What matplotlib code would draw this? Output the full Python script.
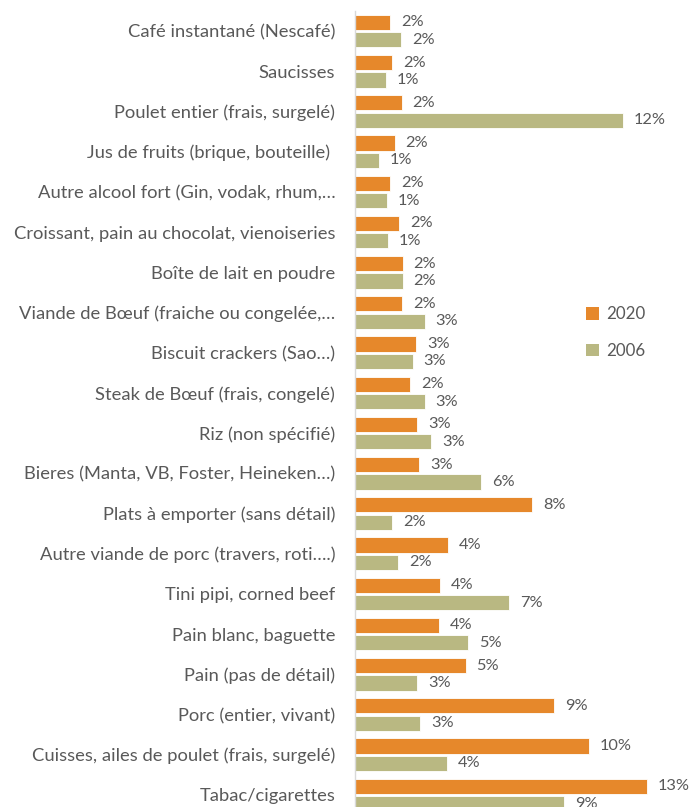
import matplotlib
matplotlib.use("Agg")
import matplotlib.pyplot as plt
from matplotlib.patches import Patch

plt.rcParams['font.family'] = ['Lato', 'DejaVu Sans']

categories = [
    "Café instantané (Nescafé)",
    "Saucisses",
    "Poulet entier (frais, surgelé)",
    "Jus de fruits (brique, bouteille) ",
    "Autre alcool fort (Gin, vodak, rhum,…",
    "Croissant, pain au chocolat, vienoiseries",
    "Boîte de lait en poudre",
    "Viande de Bœuf (fraiche ou congelée,…",
    "Biscuit crackers (Sao…)",
    "Steak de Bœuf (frais, congelé)",
    "Riz (non spécifié)",
    "Bieres (Manta, VB, Foster, Heineken…)",
    "Plats à emporter (sans détail)",
    "Autre viande de porc (travers, roti….)",
    "Tini pipi, corned beef",
    "Pain blanc, baguette",
    "Pain (pas de détail)",
    "Porc (entier, vivant)",
    "Cuisses, ailes de poulet (frais, surgelé)",
    "Tabac/cigarettes",
]

# Share of spending, in percent
values_2020 = [1.56, 1.66, 2.07, 1.76, 1.56, 1.97, 2.11, 2.10, 2.70, 2.45,
               2.74, 2.83, 7.82, 4.10, 3.77, 3.73, 4.89, 8.77, 10.32, 12.88]
values_2006 = [2.04, 1.38, 11.83, 1.07, 1.42, 1.48, 2.11, 3.08, 2.55, 3.08,
               3.38, 5.58, 1.64, 1.92, 6.80, 5.00, 2.74, 2.88, 4.07, 9.21]

series_names = ["2020", "2006"]
colors = ["#E6882B", "#B9B882"]
text_color = "#595959"

W, H = 690, 807
fig = plt.figure(figsize=(W / 100, H / 100), dpi=100)
left_px, top_px = 354.7, 11.0
step_px = 40.2
px_per_pct = 22.7
xmax = 14.0
ax = fig.add_axes([left_px / W, 1 - (top_px + step_px * len(categories)) / H,
                   xmax * px_per_pct / W, step_px * len(categories) / H])

n = len(categories)
ys = list(range(n))
h = 0.38
off = 0.215
for vals, dy, c in [(values_2020, -off, colors[0]), (values_2006, off, colors[1])]:
    pos = [y + dy for y in ys]
    ax.barh(pos, vals, height=h, color=c, edgecolor="white", linewidth=0.6)
    for p, v in zip(pos, vals):
        ax.text(v + 0.48, p, f"{v:.0f}%", va="center", ha="left",
                fontsize=11.8, color=text_color)

ax.set_xlim(0, xmax)
ax.set_ylim(n - 0.5, -0.5)
ax.set_yticks(ys)
ax.set_yticklabels(categories, fontsize=13.2, color=text_color)
ax.tick_params(axis="y", length=0, pad=14)
ax.set_xticks([])
for s in ["top", "right", "bottom"]:
    ax.spines[s].set_visible(False)
ax.spines["left"].set_color("#D9D9D9")
ax.spines["left"].set_linewidth(1.0)

handles = [Patch(facecolor=c, edgecolor="none") for c in colors]
fig.legend(handles, series_names, loc="center left",
           bbox_to_anchor=(571 / W, 1 - 332.5 / H), frameon=False,
           fontsize=12.2, labelcolor=text_color, handlelength=0.78,
           handleheight=0.78, handletextpad=0.4, labelspacing=1.22)

fig.savefig("out.png", dpi=100)
